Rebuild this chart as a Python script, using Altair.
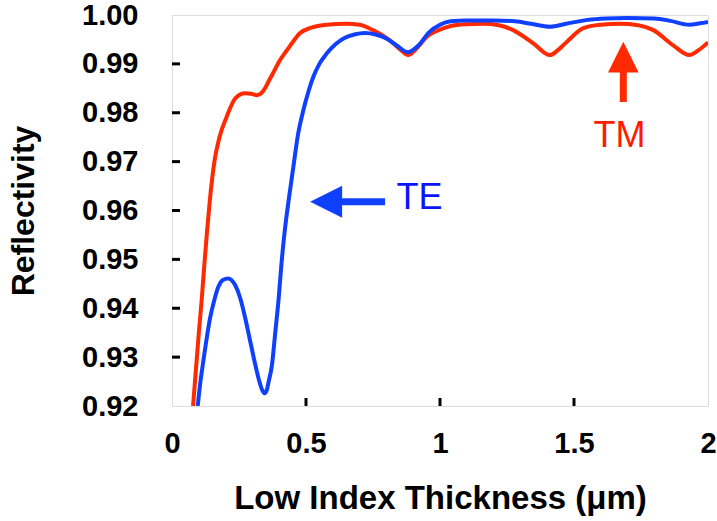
import altair as alt
import pandas as pd

# TM (red) curve
tm_t = [0.0785, 0.0892, 0.1000, 0.1108, 0.1201, 0.1302, 0.1414, 0.1590, 0.1772, 0.2034, 0.2369,
        0.2724, 0.2950, 0.3160, 0.3330, 0.3470, 0.3620, 0.377, 0.40, 0.429, 0.455, 0.478, 0.52,
        0.578, 0.65, 0.70, 0.75, 0.813, 0.85, 0.881, 0.91, 0.95, 1.00, 1.037, 1.10, 1.16, 1.22,
        1.273, 1.348, 1.41, 1.44, 1.473, 1.535, 1.60, 1.67, 1.74, 1.796, 1.87, 1.93, 1.965, 2.00]
tm_r = [0.9200, 0.9274, 0.9349, 0.9417, 0.9485, 0.9554, 0.9622, 0.9703, 0.9750, 0.9791, 0.9830,
        0.9840, 0.9839, 0.9836, 0.9840, 0.9850, 0.9866, 0.9881, 0.9905, 0.9928, 0.9948, 0.9963, 0.9974,
        0.9980, 0.9982, 0.9980, 0.9969, 0.9948, 0.9930, 0.9918, 0.9930, 0.9955, 0.9970, 0.9977, 0.9981, 0.9982, 0.9979,
        0.9969, 0.9942, 0.9918, 0.9928, 0.9945, 0.9973, 0.9980, 0.9982, 0.9979, 0.9969, 0.9938, 0.9918, 0.9928, 0.9944]

# TE (blue) curve
te_t = [0.096, 0.105, 0.115, 0.123, 0.142, 0.157, 0.173, 0.19, 0.209, 0.236, 0.255, 0.2736,
        0.292, 0.311, 0.326, 0.337, 0.3445, 0.352, 0.3607, 0.373, 0.3856, 0.398, 0.408, 0.42, 0.435,
        0.453, 0.47, 0.49, 0.51, 0.527, 0.55, 0.577, 0.61, 0.64, 0.68, 0.72, 0.76, 0.80, 0.84,
        0.88, 0.92, 0.96, 1.00, 1.04, 1.10, 1.20, 1.28, 1.34, 1.41, 1.47, 1.55, 1.62, 1.70, 1.80,
        1.86, 1.93, 1.97, 2.00]
te_r = [0.920, 0.9245, 0.9285, 0.9315, 0.9380, 0.9415, 0.9444, 0.9458, 0.9461, 0.9447, 0.9420, 0.9379,
        0.9332, 0.9284, 0.9250, 0.9232, 0.9226, 0.9230, 0.9250, 0.9284, 0.9352, 0.9420, 0.9488, 0.9555, 0.9620,
        0.969, 0.9755, 0.9805, 0.9845, 0.9873, 0.9900, 0.9921, 0.9940, 0.9952, 0.9960, 0.9963, 0.9960, 0.9952, 0.9937,
        0.9924, 0.9938, 0.9965, 0.9980, 0.9987, 0.9989, 0.9989, 0.9987, 0.9982, 0.9976, 0.9982, 0.9990, 0.9993, 0.9994, 0.9993,
        0.9988, 0.9980, 0.9983, 0.9986]

x_ticks = [0, 0.5, 1, 1.5, 2]
y_ticks = [0.92, 0.93, 0.94, 0.95, 0.96, 0.97, 0.98, 0.99, 1.00]
x_inner_ticks = [0.5, 1, 1.5]
y_inner_ticks = [0.93, 0.94, 0.95, 0.96, 0.97, 0.98, 0.99]

RED = "#ff2a00"
BLUE = "#1040ff"

df = pd.concat([
    pd.DataFrame({"t": tm_t, "r": tm_r, "pol": "TM"}),
    pd.DataFrame({"t": te_t, "r": te_r, "pol": "TE"}),
])

xs = alt.Scale(domain=[0, 2], nice=False, zero=False)
ys = alt.Scale(domain=[0.92, 1.00], nice=False, zero=False)

xaxis = alt.Axis(values=x_ticks, format="~g", title="Low Index Thickness (μm)", grid=False,
                 ticks=False, domain=False, labelFontSize=29, labelFontWeight="bold",
                 labelPadding=23, titleFontSize=33, titleFontWeight="bold", titlePadding=24,
                 labelFlush=False, labelOverlap=False, labelColor="black", titleColor="black")
yaxis = alt.Axis(values=y_ticks, format=".2f", title="Reflectivity", grid=False,
                 ticks=False, domain=False, labelFontSize=29, labelFontWeight="bold",
                 labelPadding=34, titleFontSize=32, titleFontWeight="bold", titlePadding=41,
                 labelFlush=False, labelOverlap=False, labelColor="black", titleColor="black")

lines = alt.Chart(df).mark_line(strokeWidth=4, interpolate="monotone", clip=True).encode(
    x=alt.X("t:Q", scale=xs, axis=xaxis),
    y=alt.Y("r:Q", scale=ys, axis=yaxis),
    color=alt.Color("pol:N", scale=alt.Scale(domain=["TM", "TE"], range=[RED, BLUE]), legend=None),
    detail="pol:N",
)

xt = alt.Chart(pd.DataFrame({"v": x_inner_ticks})).mark_rule(color="black", strokeWidth=3).encode(
    x=alt.X("v:Q", scale=xs), y=alt.value(391), y2=alt.value(383))
yt = alt.Chart(pd.DataFrame({"v": y_inner_ticks})).mark_rule(color="black", strokeWidth=3).encode(
    y=alt.Y("v:Q", scale=ys), x=alt.value(0), x2=alt.value(8))

# Annotations
te_shaft = alt.Chart(pd.DataFrame({"x1": [0.62], "x2": [0.795], "y": [0.9618]})).mark_rule(
    color=BLUE, strokeWidth=7).encode(x=alt.X("x1:Q", scale=xs), x2="x2:Q", y=alt.Y("y:Q", scale=ys))
te_head = alt.Chart(pd.DataFrame({"x": [0.575], "y": [0.9618]})).mark_point(
    shape="M-1,0L1,-1L1,1Z", size=1024, filled=True, opacity=1, color=BLUE).encode(
    x=alt.X("x:Q", scale=xs), y=alt.Y("y:Q", scale=ys))
te_text = alt.Chart(pd.DataFrame({"x": [0.838], "y": [0.9604], "s": ["TE"]})).mark_text(
    align="left", baseline="alphabetic", fontSize=36, font="Liberation Sans", color="#0a14ff").encode(
    x=alt.X("x:Q", scale=xs), y=alt.Y("y:Q", scale=ys), text="s:N")

tm_shaft = alt.Chart(pd.DataFrame({"x": [1.684], "y1": [0.9923], "y2": [0.9822]})).mark_rule(
    color=RED, strokeWidth=7).encode(x=alt.X("x:Q", scale=xs), y=alt.Y("y1:Q", scale=ys), y2="y2:Q")
tm_head = alt.Chart(pd.DataFrame({"x": [1.684], "y": [0.99137]})).mark_point(
    shape="M0,-1L1,1L-1,1Z", size=940, filled=True, opacity=1, color=RED).encode(
    x=alt.X("x:Q", scale=xs), y=alt.Y("y:Q", scale=ys))
tm_text = alt.Chart(pd.DataFrame({"x": [1.670], "y": [0.97297], "s": ["TM"]})).mark_text(
    align="center", baseline="alphabetic", fontSize=36, font="Liberation Sans", color="#ff1a00").encode(
    x=alt.X("x:Q", scale=xs), y=alt.Y("y:Q", scale=ys), text="s:N")

chart = alt.layer(lines, xt, yt, te_shaft, te_head, te_text, tm_shaft, tm_head, tm_text).properties(
    width=536, height=391,
    autosize=alt.AutoSizeParams(type="none"),
    padding={"left": 172, "top": 15, "right": 9, "bottom": 115},
    background="white",
).configure_view(stroke="black", strokeWidth=3).configure(font="Liberation Sans")

chart.save("out.html", embed_options={"renderer": "svg", "actions": False})
